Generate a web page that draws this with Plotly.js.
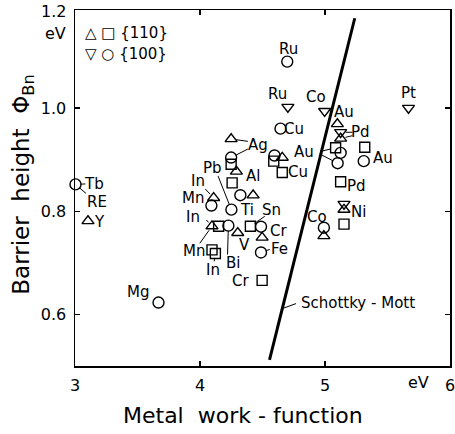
<!DOCTYPE html>
<html>
<head>
<meta charset="utf-8">
<script src="https://cdn.plot.ly/plotly-3.0.1.min.js"></script>
<style>
  html, body { margin: 0; padding: 0; background: #fff; }
  #chart { width: 455px; height: 434px; }
</style>
</head>
<body>
<div id="chart"></div>
<script>
// Schottky barrier heights of metal contacts on n-type silicon
// versus the metal work function, for {110} and {100} surfaces.

// {110}: open up-triangles
const tri110X = [3.104, 4.249, 4.291, 4.425, 4.109, 4.096, 4.302, 4.497, 4.658, 5.099, 5.125, 5.152, 4.991];
const tri110Y = [0.781, 0.940, 0.877, 0.831, 0.826, 0.771, 0.758, 0.749, 0.904, 0.969, 0.941, 0.803, 0.752];
const tri110Metal = ['Y', 'Ag', 'Al', 'Sn', 'In', 'In', 'V', 'Cr', 'Cu', 'Au', 'Pd', 'Ni', 'Co'];

// {110}: open squares
const sq110X = [4.249, 4.257, 4.149, 4.403, 4.096, 4.123, 4.497, 4.590, 4.658, 5.085, 5.318, 5.125, 5.152];
const sq110Y = [0.891, 0.855, 0.771, 0.771, 0.725, 0.718, 0.666, 0.897, 0.875, 0.923, 0.924, 0.857, 0.775];
const sq110Metal = ['Al', 'Al', 'Mn', 'Sn', 'Mn', 'In', 'Cr', 'Cu', 'Cu', 'Au', 'Au', 'Pd', 'Ni'];

// {100}: open down-triangles
const tri100X = [4.703, 4.997, 5.125, 5.152, 5.668];
const tri100Y = [1.002, 0.994, 0.953, 0.814, 1.000];
const tri100Metal = ['Ru', 'Co', 'Pd', 'Ni', 'Pt'];

// {100}: open circles
const circ100X = [3.004, 3.668, 4.249, 4.323, 4.091, 4.251, 4.227, 4.488, 4.488, 4.596, 4.644, 4.698, 5.125, 5.101, 5.310, 4.991];
const circ100Y = [0.852, 0.623, 0.904, 0.831, 0.811, 0.803, 0.772, 0.770, 0.720, 0.908, 0.960, 1.090, 0.913, 0.893, 0.897, 0.768];
const circ100Metal = ['Tb', 'Mg', 'Ag', 'Ti', 'Mn', 'Pb', 'Bi', 'Cr', 'Fe', 'Cu', 'Cu', 'Ru', 'Au', 'Au', 'Au', 'Co'];

// Schottky-Mott limit (end points)
const smX = [4.556, 5.238];
const smY = [0.512, 1.174];

// Element labels: text and centre position
const labelText = ['Ru', 'Ru', 'Co', 'Au', 'Pd', 'Au', 'Au', 'Pd', 'Ni', 'Co', 'Pt', 'Cu', 'Cu',
                   'Ag', 'Pb', 'Al', 'In', 'Mn', 'In', 'Ti', 'Sn', 'Cr', 'V', 'Fe', 'Mn', 'In', 'Bi', 'Cr',
                   'Tb', 'RE', 'Y', 'Mg'];
const labelX = [4.704, 4.616, 4.928, 5.150, 5.285, 4.830, 5.460, 5.252, 5.268, 4.936, 5.664, 4.748, 4.780,
                4.466, 4.096, 4.426, 3.984, 3.944, 3.944, 4.378, 4.570, 4.628, 4.352, 4.636, 3.952, 4.104, 4.266, 4.322,
                3.154, 3.178, 3.194, 3.504];
const labelY = [1.114, 1.027, 1.021, 0.992, 0.953, 0.915, 0.903, 0.849, 0.798, 0.789, 1.029, 0.959, 0.876,
                0.928, 0.884, 0.868, 0.858, 0.825, 0.788, 0.802, 0.802, 0.762, 0.734, 0.727, 0.723, 0.686, 0.700, 0.665,
                0.853, 0.818, 0.779, 0.643];

const series = {
  tri110: [tri110X, tri110Y],
  sq110: [sq110X, sq110Y],
  tri100: [tri100X, tri100Y],
  circ100: [circ100X, circ100Y]
};

// Leader lines from a marker to the edge of its label
const leaders = [
  ['tri110', 1, 4.395, 0.935],
  ['circ100', 2, 4.395, 0.922],
  ['circ100', 5, 4.140, 0.871],
  ['tri110', 4, 4.030, 0.846],
  ['tri110', 5, 4.040, 0.786],
  ['tri110', 5, 3.990, 0.735],
  ['sq110', 5, 4.112, 0.700],
  ['circ100', 6, 4.220, 0.713],
  ['sq110', 3, 4.530, 0.792],
  ['circ100', 8, 4.570, 0.727],
  ['circ100', 0, 3.100, 0.832],
  ['circ100', 0, 3.095, 0.853],
  ['tri100', 2, 5.230, 0.953],
  ['tri110', 10, 5.230, 0.947],
  ['sq110', 9, 4.950, 0.915],
  ['circ100', 13, 4.950, 0.912]
];

const ink = '#000';
const FONT = 'DejaVu Sans, Liberation Sans, sans-serif';

function markers(x, y, names, symbol, size) {
  return {
    type: 'scatter', mode: 'markers', x: x, y: y, text: names,
    hoverinfo: 'text+x+y', cliponaxis: false,
    marker: { symbol: symbol, size: size, color: ink, line: { color: ink, width: 1.4 } }
  };
}

const traces = [
  {
    type: 'scatter', mode: 'lines', x: smX, y: smY, hoverinfo: 'skip',
    line: { color: ink, width: 3 }
  },
  markers(tri110X, tri110Y, tri110Metal, 'triangle-up-open', 10.5),
  markers(sq110X, sq110Y, sq110Metal, 'square-open', 10),
  markers(tri100X, tri100Y, tri100Metal, 'triangle-down-open', 10.5),
  markers(circ100X, circ100Y, circ100Metal, 'circle-open', 11)
];

const annotations = [];

labelText.forEach(function (t, i) {
  annotations.push({
    x: labelX[i], y: labelY[i], xref: 'x', yref: 'y', text: t, showarrow: false, borderpad: 0,
    font: { family: FONT, size: 15, color: ink }, xanchor: 'center', yanchor: 'middle'
  });
});

leaders.forEach(function (l) {
  const s = series[l[0]];
  annotations.push({
    x: s[0][l[1]], y: s[1][l[1]], xref: 'x', yref: 'y',
    ax: l[2], ay: l[3], axref: 'x', ayref: 'y',
    text: '', showarrow: true, arrowhead: 0, arrowwidth: 1, arrowcolor: ink, standoff: 5
  });
});

// Schottky-Mott caption with its leader to the line
const smFrac = 0.15;
annotations.push({
  x: smX[0] + (smX[1] - smX[0]) * smFrac, y: smY[0] + (smY[1] - smY[0]) * smFrac,
  xref: 'x', yref: 'y', ax: 4.78, ay: 0.622, axref: 'x', ayref: 'y',
  text: '', showarrow: true, arrowhead: 0, arrowwidth: 1, arrowcolor: ink, standoff: 1
});
annotations.push({
  x: 4.79, y: 0.622, xref: 'x', yref: 'y', text: 'Schottky - Mott', showarrow: false,
  xanchor: 'left', yanchor: 'middle', font: { family: FONT, size: 15, color: ink }
});

// Surface legend
annotations.push({
  xref: 'paper', yref: 'paper', x: 0.022, y: 0.935, xanchor: 'left', yanchor: 'middle',
  text: '\u25B3 \u25A1 {110}', showarrow: false, font: { family: FONT, size: 15, color: ink }
});
annotations.push({
  xref: 'paper', yref: 'paper', x: 0.022, y: 0.876, xanchor: 'left', yanchor: 'middle',
  text: '\u25BD \u25CB {100}', showarrow: false, font: { family: FONT, size: 15, color: ink }
});

// Units and the top tick label
annotations.push({
  xref: 'paper', yref: 'paper', x: -0.018, y: 0.995, xanchor: 'right', yanchor: 'middle',
  text: '1.2', showarrow: false, font: { family: FONT, size: 16, color: ink }
});
annotations.push({
  xref: 'paper', yref: 'paper', x: -0.018, y: 0.935, xanchor: 'right', yanchor: 'middle',
  text: 'eV', showarrow: false, font: { family: FONT, size: 16, color: ink }
});
annotations.push({
  xref: 'x', yref: 'paper', x: 5.75, y: 0, yshift: -16, xanchor: 'center', yanchor: 'middle',
  text: 'eV', showarrow: false, font: { family: FONT, size: 16, color: ink }
});

// Axis titles
annotations.push({
  xref: 'paper', yref: 'paper', x: 0.448, y: 0, yshift: -49, xanchor: 'center', yanchor: 'middle',
  text: 'Metal  work - function', showarrow: false, font: { family: FONT, size: 22, color: ink }
});
annotations.push({
  xref: 'paper', yref: 'paper', x: -0.138, y: 0.51, xanchor: 'center', yanchor: 'middle', textangle: -90,
  text: 'Barrier  height  \u03A6<sub>Bn</sub>', showarrow: false, font: { family: FONT, size: 23, color: ink }
});

const axisCommon = {
  showline: true, linecolor: ink, linewidth: 1.5, mirror: 'ticks',
  ticks: 'inside', ticklen: 5, tickwidth: 1.2, tickcolor: ink,
  showgrid: false, zeroline: false, fixedrange: true,
  ticklabeloverflow: 'allow',
  tickfont: { family: FONT, size: 16, color: ink }
};

const layout = {
  width: 455, height: 434,
  margin: { l: 75, r: 5, t: 10, b: 68 },
  paper_bgcolor: '#fff', plot_bgcolor: '#fff',
  showlegend: false,
  font: { family: FONT, color: ink, size: 15 },
  xaxis: Object.assign({}, axisCommon, {
    range: [3, 6], tickvals: [3, 4, 5, 6], ticktext: ['3', '4', '5', '6'], ticklabelstandoff: 4
  }),
  yaxis: Object.assign({}, axisCommon, {
    range: [0.5, 1.19], tickvals: [0.6, 0.8, 1.0], ticktext: ['0.6', '0.8', '1.0'], ticklabelstandoff: 4
  }),
  annotations: annotations
};

Plotly.newPlot('chart', traces, layout, { displayModeBar: false, staticPlot: true });
</script>
</body>
</html>
